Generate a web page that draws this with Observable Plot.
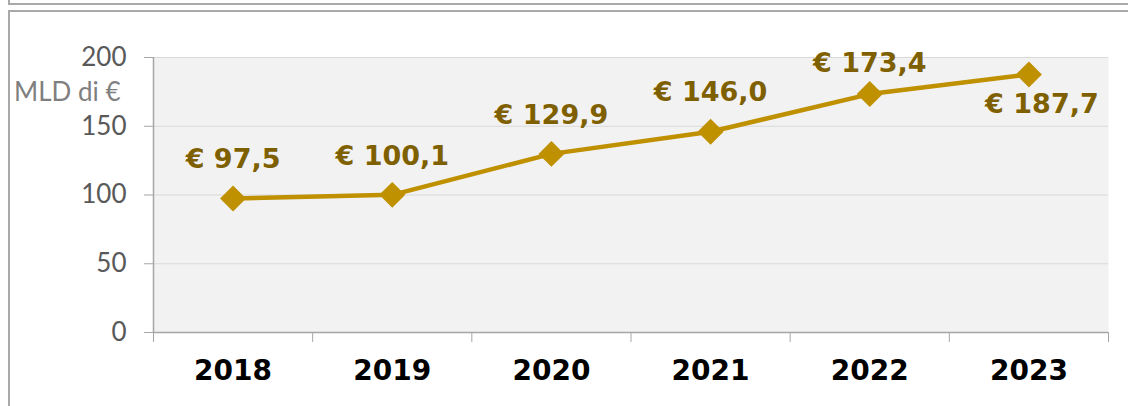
<!DOCTYPE html>
<html>
<head>
<meta charset="utf-8">
<script src="https://cdn.jsdelivr.net/npm/d3@7"></script>
<script src="https://cdn.jsdelivr.net/npm/@observablehq/plot@0.6"></script>
<style>
  html, body { margin: 0; padding: 0; background: #ffffff; overflow: hidden; }
  #wrap { position: relative; width: 1128px; height: 406px; }
  #boxTop { position: absolute; left: 8px; top: -20px; width: 1200px; height: 23px; border-left: 2px solid #a9a9a9; border-bottom: 2px solid #a9a9a9; }
  #boxMain { position: absolute; left: 8px; top: 10px; width: 1200px; height: 420px; border-left: 2px solid #a9a9a9; border-top: 2px solid #a9a9a9; }
  #chart { position: absolute; left: 0; top: 0; }
</style>
</head>
<body>
<div id="wrap">
  <div id="boxTop"></div>
  <div id="boxMain"></div>
  <div id="chart"></div>
</div>
<script>
const years = [2018, 2019, 2020, 2021, 2022, 2023];
const values = [97.5, 100.1, 129.9, 146.0, 173.4, 187.7];
const valueLabels = ["€ 97,5", "€ 100,1", "€ 129,9", "€ 146,0", "€ 173,4", "€ 187,7"];
const yTicks = [0, 50, 100, 150, 200];
const yLabel = "MLD di €";

const data = years.map((year, i) => ({year, value: values[i], label: valueLabels[i]}));
const boundaries = [years[0] - 0.5, ...years.map(y => y + 0.5)];
const lastYear = years[years.length - 1];
const nextToLast = years[years.length - 2];

const gold = "#bf9000";
const labelColor = "#7f6000";
const bold = "DejaVu Sans, Verdana, sans-serif";
const light = "Lato, Open Sans, sans-serif";

const chart = Plot.plot({
  width: 1128,
  height: 406,
  marginLeft: 153,
  marginRight: 20,
  marginTop: 57,
  marginBottom: 74,
  style: {background: "transparent", overflow: "visible"},
  x: {domain: [boundaries[0], boundaries[boundaries.length - 1]], axis: null},
  y: {domain: [0, 200], axis: null},
  marks: [
    Plot.frame({fill: "#f2f2f2", stroke: null}),
    Plot.gridY(yTicks.filter(d => d > 0), {stroke: "#d9d9d9", strokeOpacity: 1}),
    Plot.ruleY([yTicks[0]], {stroke: "#a6a6a6", strokeWidth: 1.5}),
    Plot.ruleX([boundaries[0]], {stroke: "#a6a6a6", strokeWidth: 1.5}),
    Plot.axisY({ticks: yTicks, tickSize: 9, tickPadding: 18, fontSize: 26, fontFamily: light, fill: "#595959", stroke: "#a6a6a6", strokeOpacity: 1, label: null}),
    Plot.text([yLabel], {frameAnchor: "top-left", dx: -33, dy: 25, textAnchor: "end", fontSize: 26, fontFamily: light, fill: "#7f7f7f"}),
    Plot.axisX({ticks: boundaries, tickSize: 10, tickFormat: () => "", stroke: "#a6a6a6", strokeOpacity: 1, label: null}),
    Plot.axisX({ticks: years, tickSize: 0, tickPadding: 28, tickFormat: d => String(d), fontSize: 28, fontWeight: "bold", fontFamily: bold, fill: "#000000", label: null}),
    Plot.line(data, {x: "year", y: "value", stroke: gold, strokeWidth: 4.5}),
    Plot.dot(data, {x: "year", y: "value", symbol: "diamond2", r: 11.7, fill: gold, stroke: null}),
    Plot.text(data.filter(d => d.year < nextToLast), {x: "year", y: "value", text: "label", dy: -39, fontSize: 27, fontWeight: "bold", fontFamily: bold, fill: labelColor}),
    Plot.text(data.filter(d => d.year === nextToLast), {x: "year", y: "value", text: "label", dy: -31, fontSize: 27, fontWeight: "bold", fontFamily: bold, fill: labelColor}),
    Plot.text(data.filter(d => d.year === lastYear), {x: "year", y: "value", text: "label", dx: 13, dy: 30, fontSize: 27, fontWeight: "bold", fontFamily: bold, fill: labelColor})
  ]
});
document.getElementById("chart").appendChild(chart);
</script>
</body>
</html>
